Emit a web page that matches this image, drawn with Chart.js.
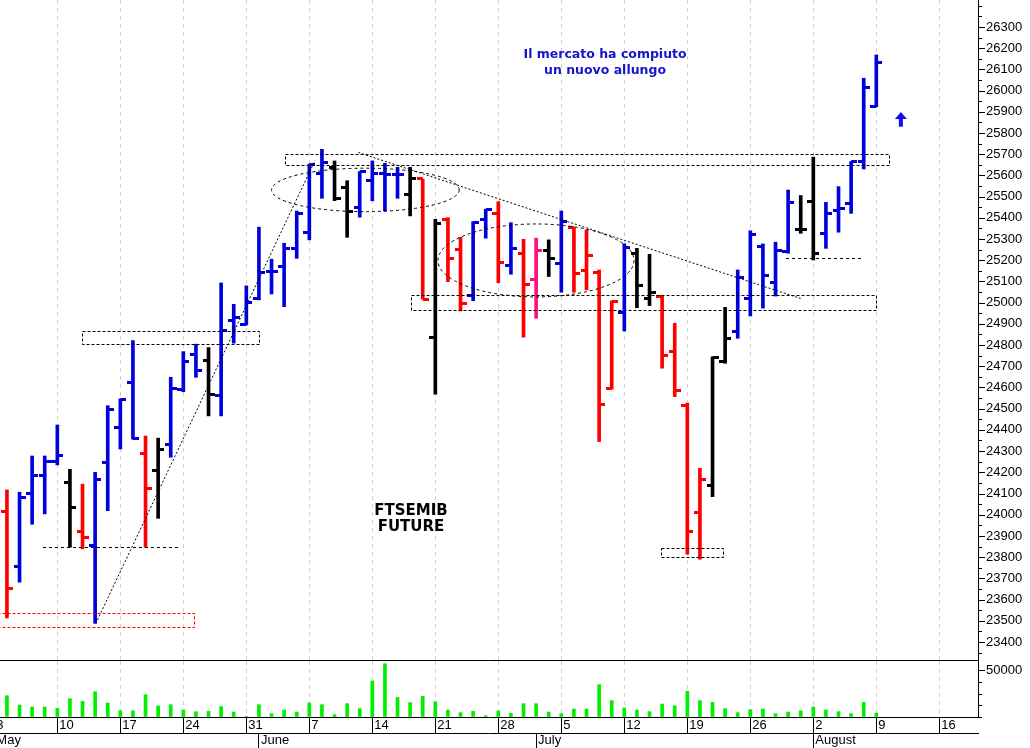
<!DOCTYPE html>
<html>
<head>
<meta charset="utf-8">
<script src="https://cdn.jsdelivr.net/npm/chart.js@4.4.0/dist/chart.umd.min.js"></script>
<style>
  html, body { margin: 0; padding: 0; background: #fff; overflow: hidden; }
  #wrap { position: relative; width: 1030px; height: 748px; }
  #price { position: absolute; left: 0; top: 0; }
  #vol { position: absolute; left: 0; top: 661px; }
</style>
</head>
<body>
<div id="wrap">
  <canvas id="price" width="1030" height="661"></canvas>
  <canvas id="vol" width="1030" height="87"></canvas>
</div>
<script>
// daily bars, 4 May .. 9 Aug (one slot per weekday, Monday 3 May = 0)
const opens = [24014, 23755, 24098, 24183, 24250, 24153, 23920, 23857, 24247, 24412,
  24623, 24287, 24208, 24329, 24592, 24757, 24726, 24561, 24918, 24898,
  25021, 25146, 25170, 25253, 25332, 25610, 25638, 25544, 25450, 25574,
  25610, 25605, 25508, 25583, 24837, 25393, 25251, 25036, 25390, 25421,
  25173, 25230, 25107, 25248, 25186, 25354, 25151, 25140, 24595, 24955,
  25230, 25021, 25031, 24769, 24513, 24012, 24137, 24722, 24863, 25021,
  25264, 25094, 25240, 25343, 25476, 25327, 25434, 25469, 25665, 25924];
const highs = [24117, 24106, 24277, 24277, 24423, 24214, 24144, 24200, 24514, 24546,
  24821, 24371, 24361, 24648, 24769, 24804, 24788, 25093, 24992, 25079,
  25356, 25205, 25280, 25432, 25653, 25723, 25668, 25575, 25618, 25668,
  25657, 25638, 25638, 25583, 25393, 25401, 25308, 25382, 25440, 25476,
  25377, 25299, 25304, 25296, 25432, 25354, 25343, 25154, 25008, 25277,
  25256, 25228, 25031, 24903, 24526, 24219, 24745, 24978, 25154, 25339,
  25277, 25285, 25531, 25505, 25686, 25473, 25547, 25665, 26058, 26168];
const lows = [23513, 23682, 23955, 24004, 24235, 23847, 23839, 23488, 24019, 24310,
  24356, 23847, 23983, 24271, 24580, 24648, 24466, 24466, 24809, 24895,
  25013, 25041, 24981, 25209, 25296, 25492, 25481, 25308, 25403, 25480,
  25432, 25492, 25409, 25017, 24569, 25099, 24961, 25009, 25304, 25094,
  25134, 24837, 24926, 25123, 25049, 25049, 25060, 24345, 24592, 24866,
  24976, 24986, 24691, 24557, 23814, 23790, 24085, 24714, 24832, 24937,
  24974, 25031, 25233, 25327, 25201, 25256, 25332, 25421, 25630, 25924];
const closes = [23650, 24082, 24183, 24250, 24278, 24033, 23894, 24167, 24497, 24541,
  24361, 24125, 24309, 24596, 24722, 24678, 24565, 24871, 24928, 25002,
  25141, 25146, 25253, 25421, 25653, 25662, 25492, 25429, 25618, 25610,
  25605, 25605, 25583, 25017, 25374, 25206, 24994, 25377, 25437, 25189,
  25256, 25087, 25244, 25206, 25382, 25139, 25220, 24522, 25006, 25259,
  25079, 25049, 24753, 24585, 23923, 24164, 24742, 24832, 25120, 25319,
  25126, 25244, 25473, 25343, 25230, 25421, 25445, 25665, 26016, 26134];
const barColors = ['r','b','b','b','b','k','r','b','b','b',
  'b','r','k','b','b','b','k','b','b','b',
  'b','b','b','b','b','b','k','k','b','b',
  'b','b','k','r','k','r','r','b','b','r',
  'b','r','p','k','b','r','r','r','r','b',
  'k','k','r','r','r','r','k','k','b','b',
  'b','b','b','k','k','b','b','b','b','b'];
const volumes = [22660, 12770, 10640, 10640, 9220, 19500, 16700, 26950, 14900, 6700,
  6700, 23760, 11700, 13100, 7450, 5670, 6000, 11000, 5320, 300,
  13100, 3550, 7450, 5300, 14900, 13100, 2500, 14200, 8900, 38300,
  56700, 20900, 15300, 22000, 16300, 7450, 4600, 6000, 1400, 6400,
  3900, 14200, 14200, 5300, 3550, 8500, 8500, 34400, 17400, 9600,
  7450, 5670, 13800, 12000, 27300, 17400, 15600, 8900, 4600, 7800,
  8500, 3550, 5300, 6700, 10640, 7450, 5670, 3550, 15600, 4250];

const dayTickValues = [0, 5, 10, 15, 20, 25, 30, 35, 40, 45, 50, 55, 60, 65, 70, 75];
const dayLabels = ['3', '10', '17', '24', '31', '7', '14', '21', '28', '5', '12', '19', '26', '2', '9', '16'];
const monthStarts = [0, 21, 43, 65];
const monthLabels = ['May', 'June', 'July', 'August'];
const priceMin = 23315, priceMax = 26427;
const volMax = 59600;

// drawings on the price panel (x in day slots, y in points)
const boxes = [
  { x0: -1, x1: 15.87, y0: 23469, y1: 23535, color: '#ff0000' },
  { x0: 6.98, x1: 21.0, y0: 24806, y1: 24864, color: '#000' },
  { x0: 23.07, x1: 71.0, y0: 25648, y1: 25701, color: '#000' },
  { x0: 33.06, x1: 69.98, y0: 24966, y1: 25036, color: '#000' },
  { x0: 52.91, x1: 57.86, y0: 23802, y1: 23842, color: '#000' }
];
const lines = [
  { x0: 3.86, y0: 23850, x1: 14.74, y1: 23850, dash: [3, 3] },
  { x0: 8.05, y0: 23488, x1: 25.45, y1: 25673, dash: [2, 2] },
  { x0: 28.89, y0: 25712, x1: 63.99, y1: 25021, dash: [2, 2] },
  { x0: 62.83, y0: 25209, x1: 68.84, y1: 25209, dash: [3, 3] }
];
const ellipses = [
  { x0: 22.0, x1: 36.9, y0: 25429, y1: 25634 },
  { x0: 35.21, x1: 50.77, y0: 25027, y1: 25371 }
];
const notes = [
  { x: 48.47, y: 26168, text: 'Il mercato ha compiuto', color: '#1414cc', font: 'bold 12.5px "DejaVu Sans"' },
  { x: 48.47, y: 26093, text: 'un nuovo allungo', color: '#1414cc', font: 'bold 12.5px "DejaVu Sans"' },
  { x: 33.07, y: 24018, text: 'FTSEMIB', color: '#000', font: 'bold 15px "DejaVu Sans"' },
  { x: 33.07, y: 23942, text: 'FUTURE', color: '#000', font: 'bold 15px "DejaVu Sans"' }
];
const arrow = { x: 71.95, tip: 25899, base: 25829 };

const COLORS = { b: '#0000dd', r: '#ff0000', k: '#000000', p: '#ff1080' };
const AXIS_FONT = { family: '"Liberation Sans", Arial, sans-serif', size: 13 };

function tickImage(color, side) {
  const c = document.createElement('canvas');
  c.width = 12; c.height = 3;
  const g = c.getContext('2d');
  g.fillStyle = color;
  g.fillRect(side === 'L' ? 0 : 6, 0, 6, 3);
  return c;
}
const openImgs = {}, closeImgs = {};
for (const k in COLORS) {
  openImgs[k] = tickImage(COLORS[k], 'L');
  closeImgs[k] = tickImage(COLORS[k], 'R');
}

// short ticks between labels on the right axes
const minorTicks = {
  id: 'minorTicks',
  afterDraw(chart) {
    const s = chart.scales.y, ctx = chart.ctx;
    ctx.save();
    ctx.strokeStyle = '#000';
    ctx.lineWidth = 1;
    s.ticks.forEach(t => {
      const py = Math.round(s.getPixelForValue(t.value)) + 0.5;
      const len = t.label ? 7 : 4;
      ctx.beginPath();
      ctx.moveTo(s.left, py);
      ctx.lineTo(s.left + len, py);
      ctx.stroke();
    });
    ctx.restore();
  }
};

const overlay = {
  id: 'overlay',
  afterDatasetsDraw(chart) {
    const { ctx, chartArea: a } = chart;
    const x = chart.scales.x, y = chart.scales.y;
    const px = v => x.getPixelForValue(v), py = v => y.getPixelForValue(v);
    ctx.save();
    ctx.beginPath();
    ctx.rect(a.left, a.top, a.width, a.height);
    ctx.clip();
    ctx.lineWidth = 1;

    boxes.forEach(b => {
      ctx.strokeStyle = b.color;
      ctx.setLineDash([3, 2]);
      const l = Math.round(px(b.x0)) + 0.5, r = Math.round(px(b.x1)) + 0.5;
      const t = Math.round(py(b.y1)) + 0.5, btm = Math.round(py(b.y0)) + 0.5;
      ctx.strokeRect(l, t, r - l, btm - t);
    });
    ctx.strokeStyle = '#000';
    lines.forEach(l => {
      ctx.setLineDash(l.dash);
      ctx.beginPath();
      ctx.moveTo(px(l.x0), Math.round(py(l.y0)) + 0.5);
      ctx.lineTo(px(l.x1), Math.round(py(l.y1)) + 0.5);
      ctx.stroke();
    });
    ctx.setLineDash([3, 3]);
    ellipses.forEach(e => {
      const cx = (px(e.x0) + px(e.x1)) / 2, cy = (py(e.y0) + py(e.y1)) / 2;
      ctx.beginPath();
      ctx.ellipse(cx, cy, Math.abs(px(e.x1) - px(e.x0)) / 2, Math.abs(py(e.y0) - py(e.y1)) / 2, 0, 0, Math.PI * 2);
      ctx.stroke();
    });
    ctx.setLineDash([]);

    ctx.textAlign = 'center';
    ctx.textBaseline = 'middle';
    notes.forEach(n => {
      ctx.font = n.font;
      ctx.fillStyle = n.color;
      ctx.fillText(n.text, px(n.x), py(n.y));
    });

    const ax = px(arrow.x), at = py(arrow.tip), ab = py(arrow.base);
    ctx.fillStyle = '#1010ee';
    ctx.beginPath();
    ctx.moveTo(ax, at);
    ctx.lineTo(ax + 6, at + 7);
    ctx.lineTo(ax + 2, at + 7);
    ctx.lineTo(ax + 2, ab);
    ctx.lineTo(ax - 2, ab);
    ctx.lineTo(ax - 2, at + 7);
    ctx.lineTo(ax - 6, at + 7);
    ctx.closePath();
    ctx.fill();
    ctx.restore();
  }
};

function noPad(s) {
  s.paddingTop = 0; s.paddingBottom = 0; s.paddingLeft = 0; s.paddingRight = 0;
}

const xRange = { type: 'linear', min: 0.45, max: 78.07, offset: false };

new Chart(document.getElementById('price'), {
  type: 'bar',
  data: {
    datasets: [
      {
        data: highs.map((h, i) => ({ x: i + 1, y: [lows[i], h] })),
        backgroundColor: barColors.map(c => COLORS[c]),
        barThickness: 3,
        order: 2
      },
      {
        type: 'scatter',
        data: opens.map((o, i) => ({ x: i + 1, y: o })),
        pointStyle: ctx => openImgs[barColors[ctx.dataIndex]],
        pointRadius: 3,
        order: 1
      },
      {
        type: 'scatter',
        data: closes.map((c, i) => ({ x: i + 1, y: c })),
        pointStyle: ctx => closeImgs[barColors[ctx.dataIndex]],
        pointRadius: 3,
        order: 1
      }
    ]
  },
  options: {
    responsive: false,
    animation: false,
    events: [],
    layout: { padding: 0, autoPadding: false },
    plugins: { legend: { display: false }, tooltip: { enabled: false } },
    scales: {
      x: {
        ...xRange,
        afterBuildTicks: s => { s.ticks = dayTickValues.map(v => ({ value: v })); },
        afterFit: s => { s.height = 1; noPad(s); },
        ticks: { display: false, autoSkip: false },
        grid: { color: '#cfcfcf', drawTicks: false, offset: false },
        border: { display: true, color: '#000', dash: [4, 4] }
      },
      y: {
        position: 'right',
        min: priceMin,
        max: priceMax,
        afterBuildTicks: s => {
          const t = [];
          for (let v = 23350; v <= 26400; v += 50) t.push({ value: v });
          s.ticks = t;
        },
        afterFit: s => { s.width = 52; noPad(s); },
        ticks: {
          autoSkip: false,
          padding: 8,
          color: '#000',
          font: AXIS_FONT,
          callback: v => (v % 100 === 0 && v >= 23400 && v <= 26300) ? String(v) : ''
        },
        grid: { drawOnChartArea: false, drawTicks: false },
        border: { display: true, color: '#000' }
      }
    }
  },
  plugins: [overlay, minorTicks]
});

new Chart(document.getElementById('vol'), {
  type: 'bar',
  data: {
    datasets: [{
      data: volumes.map((v, i) => ({ x: i + 1, y: v })),
      backgroundColor: '#00f000',
      barThickness: 3
    }]
  },
  options: {
    responsive: false,
    animation: false,
    events: [],
    layout: { padding: 0, autoPadding: false },
    plugins: { legend: { display: false }, tooltip: { enabled: false } },
    scales: {
      x: {
        ...xRange,
        position: 'bottom',
        weight: 0,
        afterBuildTicks: s => { s.ticks = dayTickValues.map(v => ({ value: v })); },
        afterFit: s => { s.height = 16; noPad(s); },
        ticks: {
          autoSkip: false, maxRotation: 0, align: 'start', labelOffset: 2, padding: -15.5,
          color: '#000', font: AXIS_FONT,
          callback: (v, i) => dayLabels[i]
        },
        grid: { color: '#cfcfcf', tickColor: '#000', tickLength: 16, offset: false },
        border: { display: true, color: '#000', dash: [4, 4] }
      },
      x2: {
        ...xRange,
        position: 'bottom',
        weight: 1,
        afterBuildTicks: s => { s.ticks = monthStarts.map(v => ({ value: v })); },
        afterFit: s => { s.height = 15; noPad(s); },
        ticks: {
          autoSkip: false, maxRotation: 0, align: 'start', labelOffset: 2, padding: -15,
          color: '#000', font: AXIS_FONT,
          callback: (v, i) => monthLabels[i]
        },
        grid: { drawOnChartArea: false, tickColor: '#000', tickLength: 15, offset: false },
        border: { display: true, color: '#000' }
      },
      y: {
        position: 'right',
        min: 0,
        max: volMax,
        afterBuildTicks: s => { s.ticks = [0, 12500, 25000, 37500, 50000].map(v => ({ value: v })); },
        afterFit: s => { s.width = 52; noPad(s); },
        ticks: {
          autoSkip: false, padding: 8, color: '#000', font: AXIS_FONT,
          callback: v => v === 50000 ? '50000' : ''
        },
        grid: { drawOnChartArea: false, drawTicks: false },
        border: { display: true, color: '#000' }
      }
    }
  },
  plugins: [minorTicks]
});
</script>
</body>
</html>
